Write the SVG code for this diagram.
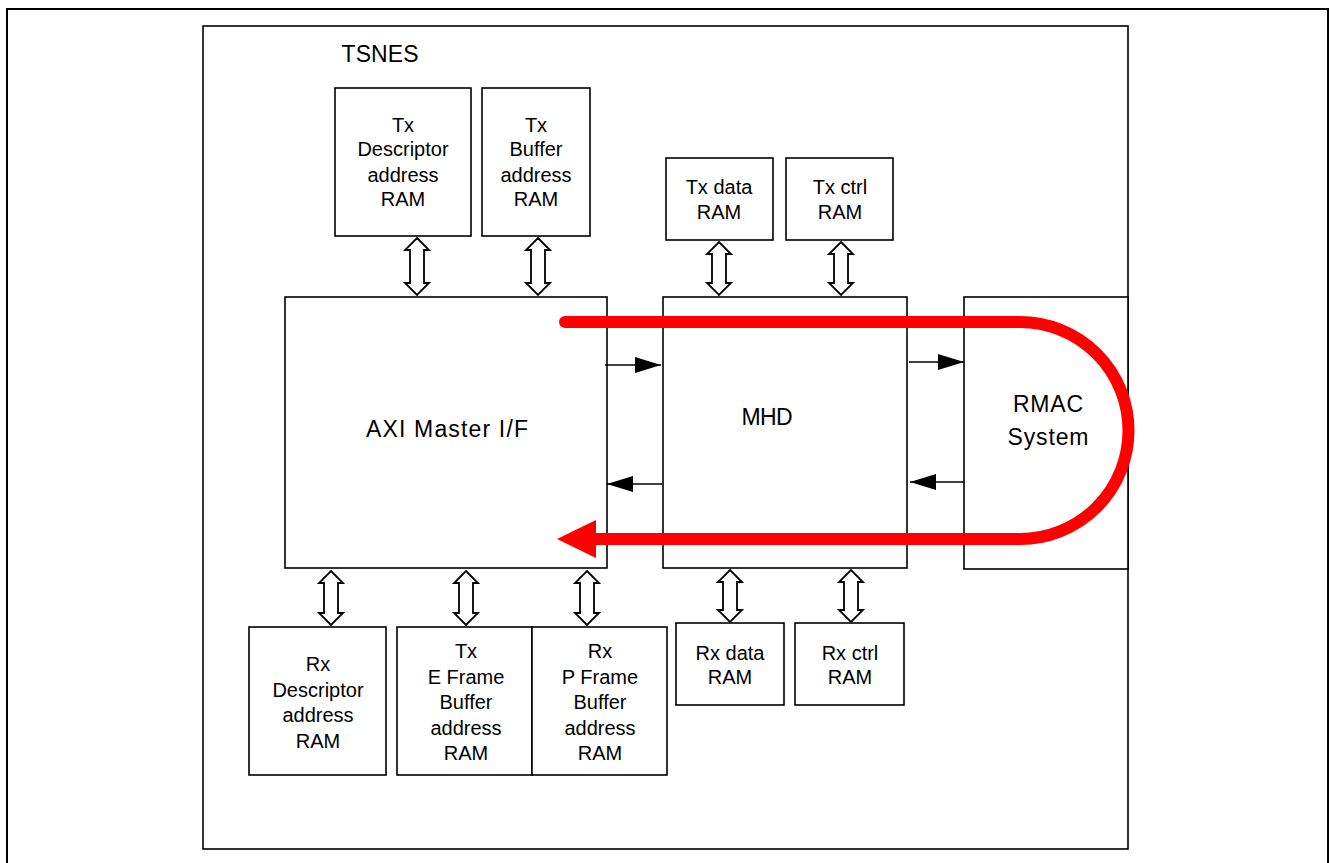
<svg xmlns="http://www.w3.org/2000/svg" width="1330" height="863" viewBox="0 0 1330 863">
<defs>
<style>
.box{fill:#fff;stroke:#000;stroke-width:1.6}
.t{font-family:"Liberation Sans",Arial,sans-serif;font-size:20px;fill:#000;text-anchor:middle}
.big{font-family:"Liberation Sans",Arial,sans-serif;font-size:23px;fill:#000;text-anchor:middle}
.dbl{fill:#fff;stroke:#000;stroke-width:1.8;stroke-linejoin:miter}
.conn{stroke:#000;stroke-width:1.6;fill:none}
</style>
<marker id="ah" markerUnits="userSpaceOnUse" markerWidth="26" markerHeight="16" refX="26" refY="8" orient="auto">
<path d="M0,0 L26,8 L0,16 z" fill="#000"/>
</marker>
</defs>
<rect x="0" y="0" width="1330" height="863" fill="#fff"/>
<rect x="7" y="9" width="1321" height="880" fill="none" stroke="#000" stroke-width="2"/>
<g id="tsnes">
<rect x="203" y="26" width="925" height="823" fill="none" stroke="#000" stroke-width="1.6"/>
<text class="big" x="380" y="62" textLength="77" lengthAdjust="spacing">TSNES</text>
</g>
<g id="tx-desc">
<rect class="box" x="335" y="88" width="136" height="148"/>
<text class="t" x="403" y="132">Tx</text>
<text class="t" x="403" y="156">Descriptor</text>
<text class="t" x="403" y="182">address</text>
<text class="t" x="403" y="206">RAM</text>
</g>
<g id="tx-buffer">
<rect class="box" x="482" y="88" width="108" height="148"/>
<text class="t" x="536" y="132">Tx</text>
<text class="t" x="536" y="156">Buffer</text>
<text class="t" x="536" y="182">address</text>
<text class="t" x="536" y="206">RAM</text>
</g>
<g id="tx-data">
<rect class="box" x="666" y="158" width="107" height="82"/>
<text class="t" x="719" y="194">Tx data</text>
<text class="t" x="719" y="219">RAM</text>
</g>
<g id="tx-ctrl">
<rect class="box" x="786" y="158" width="107" height="82"/>
<text class="t" x="840" y="194">Tx ctrl</text>
<text class="t" x="840" y="219">RAM</text>
</g>
<g id="axi">
<rect class="box" x="285" y="297" width="322" height="271"/>
<text class="big" x="447" y="437" textLength="162" lengthAdjust="spacing">AXI Master I/F</text>
</g>
<g id="mhd">
<rect class="box" x="663" y="297" width="244" height="271"/>
<text class="big" x="767" y="425" textLength="51" lengthAdjust="spacing">MHD</text>
</g>
<g id="rmac">
<rect class="box" x="964" y="297" width="164" height="272"/>
<text class="big" x="1048" y="412" textLength="70" lengthAdjust="spacing">RMAC</text>
<text class="big" x="1048" y="445" textLength="81" lengthAdjust="spacing">System</text>
</g>
<g id="rx-desc">
<rect class="box" x="249" y="627" width="137" height="148"/>
<text class="t" x="318" y="671">Rx</text>
<text class="t" x="318" y="697">Descriptor</text>
<text class="t" x="318" y="722">address</text>
<text class="t" x="318" y="748">RAM</text>
</g>
<g id="tx-eframe">
<rect class="box" x="397" y="627" width="135" height="148"/>
<text class="t" x="466" y="658">Tx</text>
<text class="t" x="466" y="684">E Frame</text>
<text class="t" x="466" y="709">Buffer</text>
<text class="t" x="466" y="735">address</text>
<text class="t" x="466" y="760">RAM</text>
</g>
<g id="rx-pframe">
<rect class="box" x="532" y="627" width="135" height="148"/>
<text class="t" x="600" y="658">Rx</text>
<text class="t" x="600" y="684">P Frame</text>
<text class="t" x="600" y="709">Buffer</text>
<text class="t" x="600" y="735">address</text>
<text class="t" x="600" y="760">RAM</text>
</g>
<g id="rx-data">
<rect class="box" x="676" y="623" width="108" height="82"/>
<text class="t" x="730" y="660">Rx data</text>
<text class="t" x="730" y="684">RAM</text>
</g>
<g id="rx-ctrl">
<rect class="box" x="795" y="623" width="109" height="82"/>
<text class="t" x="850" y="660">Rx ctrl</text>
<text class="t" x="850" y="684">RAM</text>
</g>
<g id="connectors">
<path class="dbl" d="M417,238 L429,250 L424,250 L424,283 L429,283 L417,295 L405,283 L410,283 L410,250 L405,250 Z"/>
<path class="dbl" d="M538,238 L550,250 L545,250 L545,283 L550,283 L538,295 L526,283 L531,283 L531,250 L526,250 Z"/>
<path class="dbl" d="M719,242 L731,254 L726,254 L726,283 L731,283 L719,295 L707,283 L712,283 L712,254 L707,254 Z"/>
<path class="dbl" d="M841,242 L853,254 L848,254 L848,283 L853,283 L841,295 L829,283 L834,283 L834,254 L829,254 Z"/>
<path class="dbl" d="M331,571 L343,583 L338,583 L338,613 L343,613 L331,625 L319,613 L324,613 L324,583 L319,583 Z"/>
<path class="dbl" d="M466,571 L478,583 L473,583 L473,613 L478,613 L466,625 L454,613 L459,613 L459,583 L454,583 Z"/>
<path class="dbl" d="M587,571 L599,583 L594,583 L594,613 L599,613 L587,625 L575,613 L580,613 L580,583 L575,583 Z"/>
<path class="dbl" d="M730,570 L742,582 L737,582 L737,610 L742,610 L730,622 L718,610 L723,610 L723,582 L718,582 Z"/>
<path class="dbl" d="M851,570 L863,582 L858,582 L858,610 L863,610 L851,622 L839,610 L844,610 L844,582 L839,582 Z"/>
<line class="conn" x1="605" y1="365" x2="661" y2="365" marker-end="url(#ah)"/>
<line class="conn" x1="662" y1="484" x2="607" y2="484" marker-end="url(#ah)"/>
<line class="conn" x1="909" y1="362" x2="964" y2="362" marker-end="url(#ah)"/>
<line class="conn" x1="964" y1="482" x2="910" y2="482" marker-end="url(#ah)"/>
<path d="M565,322 H1020 A108.5,108.5 0 0 1 1020,539 H592" fill="none" stroke="#ff0000" stroke-width="12" stroke-linecap="round"/>
<polygon points="557,539 596,520 596,558" fill="#ff0000"/>
</g>
</svg>
